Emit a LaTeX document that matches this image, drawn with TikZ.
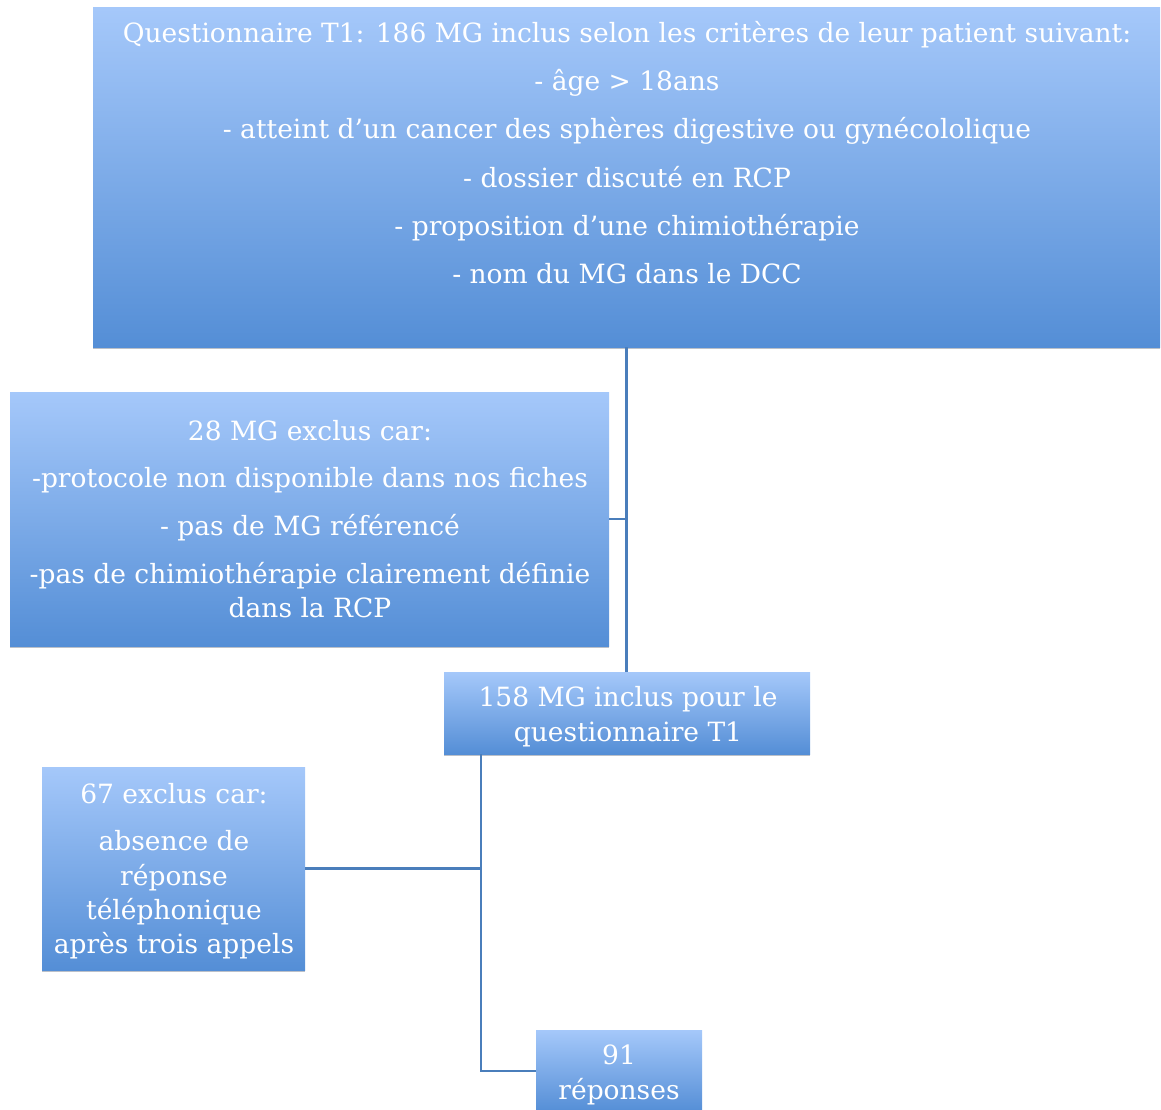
\documentclass[tikz,border=0pt]{standalone}
\usepackage{fontspec}
\setmainfont{DejaVu Serif}
\usetikzlibrary{shadows}
\definecolor{boxtop}{RGB}{165,200,250}
\definecolor{boxbot}{RGB}{84,142,214}
\definecolor{linkc}{RGB}{74,126,187}
\definecolor{shadowc}{RGB}{120,130,145}
\tikzset{
  flowbox/.style={rectangle, inner sep=0pt, top color=boxtop, bottom color=boxbot, draw=none,
    drop shadow={shadow xshift=0pt, shadow yshift=-2pt, fill=shadowc, opacity=0.5}},
  boxtext/.style={text=white, font=\fontsize{26.5}{34}\selectfont, inner sep=0pt, anchor=base},
  link/.style={draw=linkc, line width=2.8pt},
}
\begin{document}
\begin{tikzpicture}[x=1pt,y=-1pt]
\useasboundingbox (0,0) rectangle (1161,1110);
% boxes
\node[flowbox, minimum width=1067pt, minimum height=339pt] (A) at (626.5,177.5) {};
\node[flowbox, minimum width=599pt, minimum height=254pt] (B) at (309.5,519) {};
\node[flowbox, minimum width=366pt, minimum height=82pt] (C) at (627,713) {};
\node[flowbox, minimum width=263pt, minimum height=203pt] (D) at (173.5,868.5) {};
\node[flowbox, minimum width=166pt, minimum height=82pt] (E) at (619,1071) {};
% connectors
\coordinate (jB) at (A.south |- B.east);
\coordinate (cx) at ([xshift=-146pt]C.south);
\coordinate (jD) at (cx |- D.east);
\coordinate (jE) at (cx |- E.west);
\draw[link] (A.south) -- (jB) -- (A.south |- C.north);
\draw[link] (B.east) -- (jB);
\draw[link] (cx) -- (jD) -- (jE) -- (E.west);
\draw[link] (D.east) -- (jD);
% texts
\node[boxtext] (a1) at (627,43) {Questionnaire T1: 186 MG inclus selon les critères de leur patient suivant:};
\node[boxtext] (a2) at (627,91) {- âge > 18ans};
\node[boxtext] (a3) at (627,139) {- atteint d'un cancer des sphères digestive ou gynécololique};
\node[boxtext] (a4) at (627,187) {- dossier discuté en RCP};
\node[boxtext] (a5) at (627,235) {- proposition d'une chimiothérapie};
\node[boxtext] (a6) at (627,283) {- nom du MG dans le DCC};
\node[boxtext] (b1) at (310,440) {28 MG exclus car:};
\node[boxtext] (b2) at (310,487) {-protocole non disponible dans nos fiches};
\node[boxtext] (b3) at (310,535) {- pas de MG référencé};
\node[boxtext] (b4) at (310,583) {-pas de chimiothérapie clairement définie};
\node[boxtext] (b5) at (310,617) {dans la RCP};
\node[boxtext] (c1) at (628,706) {158 MG inclus pour le};
\node[boxtext] (c2) at (628,741) {questionnaire T1};
\node[boxtext] (d1) at (174,803) {67 exclus car:};
\node[boxtext] (d2) at (174,850) {absence de};
\node[boxtext] (d3) at (174,885) {réponse};
\node[boxtext] (d4) at (174,919) {téléphonique};
\node[boxtext] (d5) at (174,953) {après trois appels};
\node[boxtext] (e1) at (619,1064) {91};
\node[boxtext] (e2) at (619,1099) {réponses};
\end{tikzpicture}
\end{document}
